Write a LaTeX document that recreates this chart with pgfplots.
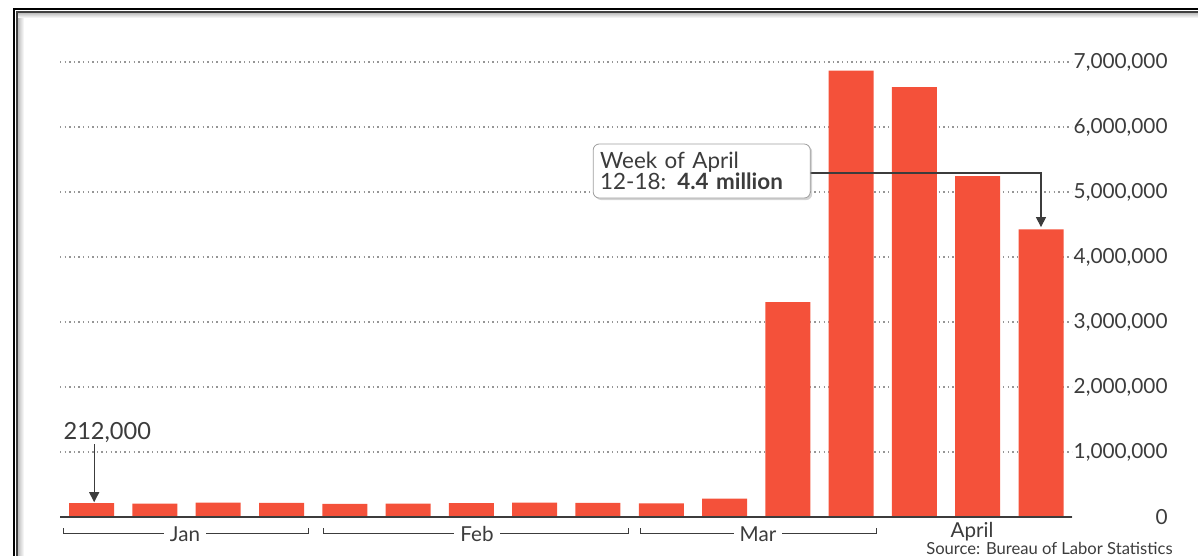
\documentclass[border=0pt]{standalone}
\usepackage{fontspec}
\setmainfont{Lato}
\usepackage{pgfplots}
\pgfplotsset{compat=1.18}
\usetikzlibrary{shadows,arrows.meta}
\definecolor{barred}{RGB}{244,81,58}
\definecolor{txt}{RGB}{60,60,60}
\definecolor{gridc}{RGB}{150,150,150}
\begin{document}
\begin{tikzpicture}
\useasboundingbox (0,0) rectangle (599pt,-278pt);
% frame
\begin{scope}[x=0.5pt,y=-0.5pt]
\shade[left color=gray!55, right color=white] (17.5,12.5) rectangle (24,556);
\shade[top color=gray!55, bottom color=white] (17.5,12.5) rectangle (1198,18);
\draw[black, line width=1pt] (14,556) -- (14,9) -- (1198,9);
\draw[black!75, line width=1pt] (17,556) -- (17,12) -- (1198,12);
\end{scope}
\begin{axis}[
  at={(30pt,-258.5pt)}, anchor=south west,
  scale only axis, width=506pt, height=227.5pt,
  xmin=-0.5, xmax=15.49, ymin=0, ymax=7000000,
  ybar, bar width=22.5pt,
  axis line style={draw=none},
  xtick=\empty,
  ytick={0,1000000,2000000,3000000,4000000,5000000,6000000,7000000},
  yticklabel pos=right,
  major tick length=0pt,
  scaled y ticks=false,
  yticklabel style={anchor=east, inner sep=0pt, xshift=48pt,
    font=\fontsize{10.4}{12}\selectfont, text=txt,
    /pgf/number format/.cd, fixed, 1000 sep={,}, assume math mode=true},
  ymajorgrids,
  grid style={gridc, line width=0.7pt, dash pattern=on 0.7pt off 1.6pt},
  clip=false,
]
\addplot[fill=barred, draw=none] coordinates {
  (0,212000) (1,207000) (2,223000) (3,217000) (4,201000) (5,206000)
  (6,214000) (7,220000) (8,217000) (9,211000) (10,282000) (11,3307000)
  (12,6867000) (13,6615000) (14,5245000) (15,4427000)};
\draw[txt, line width=0.8pt] (axis cs:-0.5,0) -- (axis cs:15.49,0);
% 212,000 annotation
\node[anchor=west, inner sep=0pt, font=\fontsize{11.8}{13}\selectfont, text=txt]
  at (axis cs:-0.45,1292000) {212,000};
\draw[txt, line width=0.6pt, -{Triangle[width=5pt,length=5pt]}]
  (axis cs:0.04,1120000) -- (axis cs:0.04,228000);
% callout
\draw[txt, line width=0.6pt, -{Triangle[width=5pt,length=5pt]}]
  (axis cs:11.2,5292000) -- (axis cs:15,5292000) -- (axis cs:15,4460000);
\node[draw=gray!75, fill=white, rounded corners=3pt,
  drop shadow={shadow xshift=1pt, shadow yshift=-1pt, opacity=0.35},
  anchor=east, inner xsep=3.5pt, inner ysep=2pt, text width=101.5pt,
  minimum height=27pt, align=left, text=txt,
  font=\fontsize{11.2}{10.5}\selectfont]
  at (axis cs:11.36,5323000) {Week of April\\12-18: \textbf{4.4 million}};
\end{axis}
% month brackets
\begin{scope}[x=0.5pt,y=-0.5pt]
\draw[txt, line width=0.5pt] (63,528) -- (63,533) -- (308,533) -- (308,528);
\draw[txt, line width=0.5pt] (323,528) -- (323,533) -- (628,533) -- (628,528);
\draw[txt, line width=0.5pt] (640,528) -- (640,533) -- (876,533) -- (876,528);
\node[fill=white, inner xsep=3pt, inner ysep=1pt, text=txt, font=\fontsize{10.3}{12}\selectfont] at (185,534) {Jan};
\node[fill=white, inner xsep=3pt, inner ysep=1pt, text=txt, font=\fontsize{10.3}{12}\selectfont] at (477,534) {Feb};
\node[fill=white, inner xsep=3pt, inner ysep=1pt, text=txt, font=\fontsize{10.3}{12}\selectfont] at (758,534) {Mar};
\node[inner sep=0pt, text=txt, font=\fontsize{10.3}{12}\selectfont] at (972,532) {April};
\node[anchor=east, inner sep=0pt, text=txt, font=\fontsize{8.3}{10}\selectfont] at (1173,548) {Source: Bureau of Labor Statistics};
\end{scope}
\end{tikzpicture}
\end{document}
